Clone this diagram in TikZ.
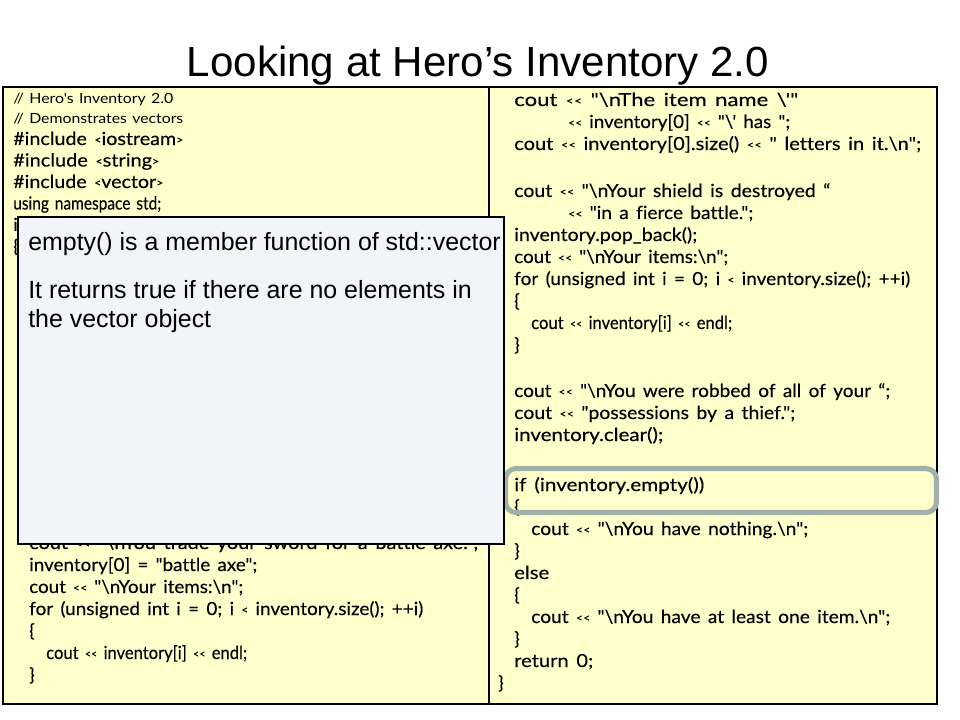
\documentclass[tikz,border=0pt]{standalone}
\usepackage{graphicx}
\usepackage{fontspec}
\setmainfont{Liberation Sans}
\newfontfamily\codefont{Lato}[Ligatures=NoCommon, WordSpace=1.5, FakeBold=0.2]
\newfontfamily\cmtfont{Lato}[Ligatures=NoCommon, WordSpace=1.3]
\newfontfamily\arialfont{Liberation Sans}
\definecolor{codeyellow}{RGB}{255,255,204}
\definecolor{notefill}{RGB}{241,245,250}
\definecolor{hilite}{RGB}{160,177,169}
\newcommand\bsl{\textbackslash}
% small angle brackets, as the slide's font draws them
\newcommand\lt{\raisebox{0.07em}{\scalebox{0.62}{<}}}
\newcommand\gt{\raisebox{0.07em}{\scalebox{0.62}{>}}}
\newcommand\shl{\lt\kern0.02em\lt}
% fit a code line to a width given in pixels (1px = 0.75pt)
\newcommand\fitw[2]{\resizebox{#1\dimexpr 0.75pt\relax}{\height}{#2}}
\tikzset{
  codeline/.style={anchor=base west, inner sep=0pt, font=\codefont\fontsize{13.5}{15}\selectfont},
  cmtline/.style={anchor=base west, inner sep=0pt, font=\cmtfont\fontsize{10.5}{12}\selectfont},
  noteline/.style={anchor=base west, inner sep=0pt, font=\arialfont\fontsize{18.7}{22}\selectfont},
  titletext/.style={anchor=base, inner sep=0pt, font=\arialfont\fontsize{31.6}{38}\selectfont},
  panel/.style={fill=codeyellow},
  panelborder/.style={draw=black, line width=0.9pt},
}
\begin{document}
\begin{tikzpicture}[x=0.75pt,y=-0.75pt]
\useasboundingbox (0,0) rectangle (960,720);
\fill[white] (0,0) rectangle (960,720);
% title
\node[titletext] (title) at (478,77) {Looking at Hero’s Inventory 2.0};
% panels
\fill[panel] (3,87) rectangle (489,704);
\fill[panel] (489,87) rectangle (937,704);
% left code
\node[cmtline] (l1) at (13,104) {\fitw{160}{// Hero's Inventory 2.0}};
\node[cmtline] (l2) at (13,124) {\fitw{170}{// Demonstrates vectors}};
\node[codeline] (l3) at (13,145) {\fitw{170}{\#include \lt iostream\gt}};
\node[codeline] (l4) at (13,166.5) {\fitw{146}{\#include \lt string\gt}};
\node[codeline] (l5) at (13,188) {\fitw{150}{\#include \lt vector\gt}};
\node[codeline] (l6) at (13,209.5) {\fitw{148}{using namespace std;}};
\node[codeline] (l7) at (13,231) {i};
\node[codeline] (l8) at (13,252.5) {\{};
\node[codeline] (l9) at (29,549) {\fitw{449}{cout \shl{} "\bsl nYou trade your sword for a battle axe.";}};
\node[codeline] (l10) at (29,571) {\fitw{228}{inventory[0] = "battle axe";}};
\node[codeline] (l11) at (29,593) {\fitw{214}{cout \shl{} "\bsl nYour items:\bsl n";}};
\node[codeline] (l12) at (29,615) {\fitw{394}{for (unsigned int i = 0; i \lt{} inventory.size(); ++i)}};
\node[codeline] (l13) at (29,637) {\{};
\node[codeline] (l14) at (46,659) {\fitw{201}{cout \shl{} inventory[i] \shl{} endl;}};
\node[codeline] (l15) at (29,681) {\}};
% right code
\node[codeline] (r1) at (514,106) {\fitw{284}{cout \shl{} "\bsl nThe item name \bsl'"}};
\node[codeline] (r2) at (568,128) {\fitw{222}{\shl{} inventory[0] \shl{} "\bsl' has ";}};
\node[codeline] (r3) at (514,150) {\fitw{407}{cout \shl{} inventory[0].size() \shl{} " letters in it.\bsl n";}};
\node[codeline] (r4) at (514,197) {\fitw{316}{cout \shl{} "\bsl nYour shield is destroyed “}};
\node[codeline] (r5) at (568,219) {\fitw{185}{\shl{} "in a fierce battle.";}};
\node[codeline] (r6) at (514,241) {\fitw{183}{inventory.pop\_back();}};
\node[codeline] (r7) at (514,263) {\fitw{214}{cout \shl{} "\bsl nYour items:\bsl n";}};
\node[codeline] (r8) at (514,285) {\fitw{396}{for (unsigned int i = 0; i \lt{} inventory.size(); ++i)}};
\node[codeline] (r9) at (514,307) {\{};
\node[codeline] (r10) at (531,329) {\fitw{201}{cout \shl{} inventory[i] \shl{} endl;}};
\node[codeline] (r11) at (514,351) {\}};
\node[codeline] (r12) at (514,397) {\fitw{376}{cout \shl{} "\bsl nYou were robbed of all of your “;}};
\node[codeline] (r13) at (514,419) {\fitw{281}{cout \shl{} "possessions by a thief.";}};
\node[codeline] (r14) at (514,441) {\fitw{149}{inventory.clear();}};
\node[codeline] (r15) at (514,491) {\fitw{190}{if (inventory.empty())}};
\node[codeline] (r16) at (514,513) {\{};
\node[codeline] (r17) at (531,535) {\fitw{277}{cout \shl{} "\bsl nYou have nothing.\bsl n";}};
\node[codeline] (r18) at (514,557) {\}};
\node[codeline] (r19) at (514,579) {\fitw{35}{else}};
\node[codeline] (r20) at (514,601) {\{};
\node[codeline] (r21) at (531,623) {\fitw{359}{cout \shl{} "\bsl nYou have at least one item.\bsl n";}};
\node[codeline] (r22) at (514,645) {\}};
\node[codeline] (r23) at (514,667) {\fitw{79}{return 0;}};
\node[codeline] (r24) at (498,689) {\}};
% panel borders
\draw[panelborder] (3,87) rectangle (489,704);
\draw[panelborder] (489,87) rectangle (937,704);
% highlight
\draw[hilite, line width=3.8pt, rounded corners=8pt] (505.5,468.5) rectangle (936.5,512.5);
% note box
\draw[fill=notefill, draw=black, line width=0.8pt] (18,217) rectangle (504,544);
\node[noteline] (n1) at (28,251) {empty() is a member function of std::vector};
\node[noteline] (n2) at (28,299) {It returns true if there are no elements in};
\node[noteline] (n3) at (28,327) {the vector object};
\end{tikzpicture}
\end{document}
